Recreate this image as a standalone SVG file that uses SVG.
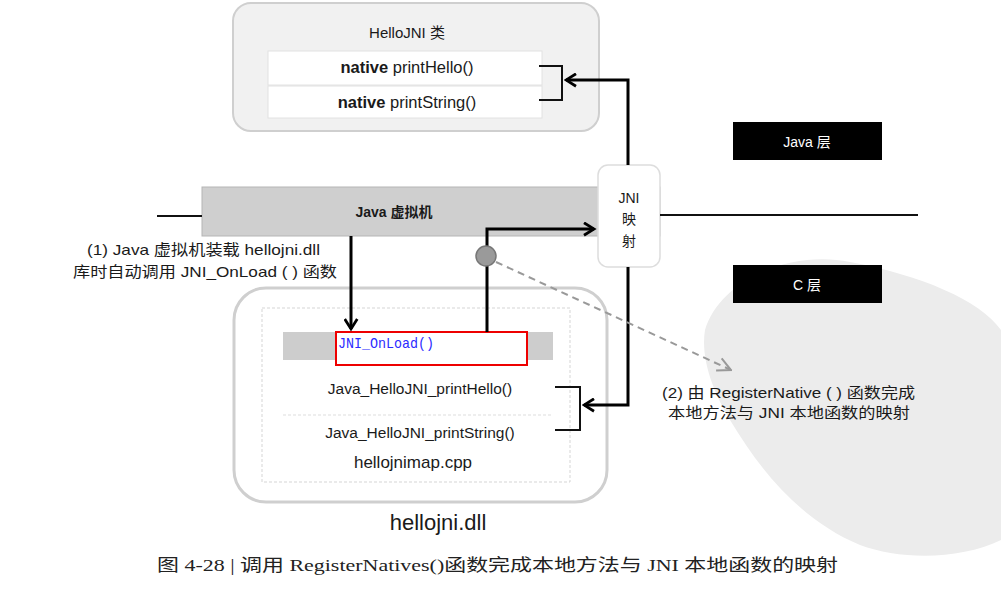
<svg xmlns="http://www.w3.org/2000/svg" width="1001" height="608" viewBox="0 0 1001 608">
<style>
.t{font-family:"Liberation Sans","Noto Sans CJK SC",sans-serif;fill:#1a1a1a}
.ln{stroke:#000;stroke-width:3;fill:none}
.thin{stroke:#111;stroke-width:2;fill:none}
</style>
<defs>
<marker id="ah" viewBox="0 0 12 12" refX="10" refY="6" markerWidth="5" markerHeight="5" orient="auto" markerUnits="strokeWidth">
<path d="M2,1 L10,6 L2,11" fill="none" stroke="#000" stroke-width="2.2"/>
</marker>
<marker id="ahg" viewBox="0 0 12 12" refX="11" refY="6" markerWidth="8" markerHeight="8" orient="auto" markerUnits="strokeWidth">
<path d="M1,1 L11,6 L1,11" fill="none" stroke="#999" stroke-width="1.5"/>
</marker>
</defs>
<rect width="1001" height="608" fill="#fff"/>
<!-- watermark backdrop -->
<path d="M705,330 C720,280 790,250 850,262 C920,275 980,300 1001,330 L1001,540 C960,560 900,560 860,545 C800,520 760,470 730,420 C715,395 700,360 705,330 Z" fill="#ececec"/>

<g id="hellojni-class">
<rect x="233" y="3" width="366" height="128" rx="18" fill="#f1f1f1" stroke="#cfcfcf" stroke-width="2"/>
<text x="407" y="38" class="t" font-size="15" text-anchor="middle">HelloJNI 类</text>
<rect x="268" y="51" width="274" height="34" fill="#fff" stroke="#e2e2e2"/>
<rect x="268" y="86" width="274" height="32" fill="#fff" stroke="#e2e2e2"/>
<text x="407" y="73" class="t" font-size="16.5" text-anchor="middle"><tspan font-weight="bold">native</tspan>  printHello()</text>
<text x="407" y="108" class="t" font-size="16.5" text-anchor="middle"><tspan font-weight="bold">native</tspan>  printString()</text>
<polyline points="539,66 562,66 562,100 539,100" class="thin" stroke-width="2.5"/>
</g>

<g id="java-vm">
<rect x="202" y="187" width="458" height="49" fill="#cfcfcf" stroke="#b5b5b5"/>
<text x="394" y="217" class="t" font-size="14" font-weight="bold" text-anchor="middle">Java 虚拟机</text>
</g>

<g id="jni-map">
<rect x="598" y="165" width="62" height="102" rx="10" fill="#fff" stroke="#ddd" stroke-width="1.5"/>
<text x="629" y="203" class="t" font-size="14" text-anchor="middle">JNI</text>
<text x="629" y="224" class="t" font-size="14" text-anchor="middle">映</text>
<text x="629" y="246" class="t" font-size="14" text-anchor="middle">射</text>
</g>

<g id="java-layer">
<rect x="733" y="122" width="149" height="38" fill="#000"/>
<text x="807" y="147" font-family="Liberation Sans,Noto Sans CJK SC,sans-serif" font-size="14" fill="#fff" text-anchor="middle">Java 层</text>
</g>
<g id="c-layer">
<rect x="733" y="265" width="149" height="38" fill="#000"/>
<text x="807" y="290" font-family="Liberation Sans,Noto Sans CJK SC,sans-serif" font-size="14" fill="#fff" text-anchor="middle">C 层</text>
</g>

<g id="note1">
<text x="87" y="255" class="t" font-size="15" textLength="233" lengthAdjust="spacingAndGlyphs">(1) Java 虚拟机装载 hellojni.dll</text>
<text x="73" y="277" class="t" font-size="15" textLength="264" lengthAdjust="spacingAndGlyphs">库时自动调用 JNI_OnLoad ( ) 函数</text>
</g>

<g id="hellojni-dll">
<rect x="234" y="288" width="373" height="214" rx="32" fill="#fff" stroke="#cfcfcf" stroke-width="3"/>
<rect x="262" y="308" width="308" height="174" fill="#fff" stroke="#d5d5d5" stroke-dasharray="3,2"/>
<rect x="283" y="332" width="270" height="28" fill="#cdcdcd"/>
<rect x="336" y="332" width="191" height="33" fill="#fff" stroke="#e00" stroke-width="2"/>
<text x="338" y="348" font-family="Liberation Mono,monospace" font-size="15" fill="#2b2bff" textLength="96" lengthAdjust="spacingAndGlyphs">JNI_OnLoad()</text>
<line x1="283" y1="415" x2="553" y2="415" stroke="#ddd" stroke-dasharray="3,2"/>
<text x="420" y="394" class="t" font-size="15.5" text-anchor="middle">Java_HelloJNI_printHello()</text>
<text x="420" y="438" class="t" font-size="15.5" text-anchor="middle">Java_HelloJNI_printString()</text>
<polyline points="555,387 580,387 580,430 555,430" class="thin" stroke-width="2.5"/>
<text x="413" y="468" class="t" font-size="17" text-anchor="middle">hellojnimap.cpp</text>
<text x="438" y="530" class="t" font-size="22" text-anchor="middle">hellojni.dll</text>
</g>

<g id="note2">
<text x="662" y="398" class="t" font-size="15" textLength="253" lengthAdjust="spacingAndGlyphs">(2) 由 RegisterNative ( ) 函数完成</text>
<text x="668" y="418" class="t" font-size="15" textLength="242" lengthAdjust="spacingAndGlyphs">本地方法与 JNI 本地函数的映射</text>
</g>

<g id="caption">
<text x="157" y="571" font-family="Liberation Serif,Noto Sans CJK SC,serif" font-size="17" fill="#222" textLength="681" lengthAdjust="spacingAndGlyphs">图 4-28 |  调用 RegisterNatives()函数完成本地方法与 JNI 本地函数的映射</text>
</g>

<g id="connectors">
<line x1="157" y1="216" x2="202" y2="216" class="thin"/>
<line x1="660" y1="215" x2="918" y2="215" class="thin"/>
<polyline points="628,165 628,80 566,80" class="ln" marker-end="url(#ah)"/>
<polyline points="628,267 628,405 584,405" class="ln" marker-end="url(#ah)"/>
<line x1="351" y1="236" x2="351" y2="329" class="ln" marker-end="url(#ah)"/>
<polyline points="487,332 487,229 594,229" class="ln" marker-end="url(#ah)"/>
<line x1="496" y1="262" x2="731" y2="370" stroke="#999" stroke-width="2" stroke-dasharray="7,5" marker-end="url(#ahg)"/>
<circle cx="486" cy="256" r="10" fill="#9a9a9a" stroke="#777" stroke-width="1.5"/>
</g>
</svg>
